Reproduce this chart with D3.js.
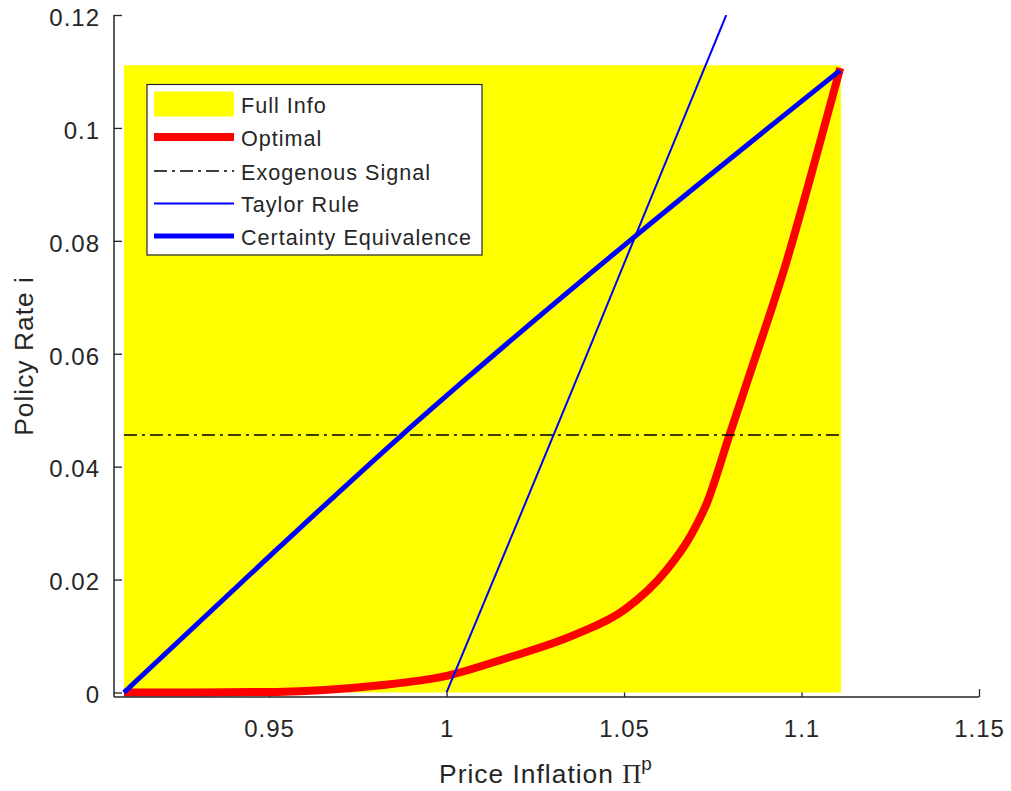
<!DOCTYPE html>
<html>
<head>
<meta charset="utf-8">
<script src="https://cdn.jsdelivr.net/npm/d3@7"></script>
<style>
  html, body { margin: 0; padding: 0; background: #fff; }
  svg { display: block; }
  text { font-family: "Liberation Sans", Arial, sans-serif; fill: #262626; }
</style>
</head>
<body>
<svg id="chart" width="1011" height="791"></svg>
<script>
// ---- data ----
const xTicks = [0.95, 1, 1.05, 1.1, 1.15];
const xTickLabels = ["0.95", "1", "1.05", "1.1", "1.15"];
const yTicks = [0, 0.02, 0.04, 0.06, 0.08, 0.1, 0.12];
const yTickLabels = ["0", "0.02", "0.04", "0.06", "0.08", "0.1", "0.12"];

// Full-information region (shaded patch)
const fullInfoX = [0.9091, 1.1111];
const fullInfoY = [0, 0.1111];

// Optimal policy
const optimalX = [0.9091, 0.930, 0.952, 0.980, 0.999, 1.017, 1.036, 1.050, 1.062, 1.0686, 1.0733, 1.0797, 1.0850, 1.0959, 1.1039, 1.1109];
const optimalY = [0, 0, 0.0001, 0.0012, 0.0028, 0.0061, 0.0102, 0.0146, 0.0217, 0.0276, 0.0335, 0.0456, 0.0556, 0.0766, 0.0944, 0.1106];

// Exogenous signal (horizontal)
const exoX = [0.9091, 1.1111];
const exoY = [0.0456, 0.0456];

// Taylor rule
const taylorX = [1.0, 1.02, 1.04, 1.06, 1.0788];
const taylorY = [0, 0.0302, 0.0606, 0.0913, 0.12];

// Certainty equivalence
const ceX = [0.9091, 0.9521, 0.9874, 1.0052, 1.0531, 1.1109];
const ceY = [0, 0.0253, 0.0456, 0.0554, 0.0808, 0.1102];

const legendLabels = ["Full Info", "Optimal", "Exogenous Signal", "Taylor Rule", "Certainty Equivalence"];

// ---- layout ----
const svg = d3.select("#chart");
const axisColor = "#262626";
const x = d3.scaleLinear().domain([0.9063, 1.15]).range([114, 979]);
const y = d3.scaleLinear().domain([-0.0008, 0.12]).range([697, 15]);

svg.append("defs").append("clipPath").attr("id", "plotclip")
  .append("rect").attr("x", 114).attr("y", 15).attr("width", 865).attr("height", 682);

// ticks (drawn under the data, like MATLAB's bottom layer)
const xAxis = d3.axisBottom(x).tickValues(xTicks).tickSize(-8).tickFormat((d, i) => xTickLabels[i]);
const yAxis = d3.axisLeft(y).tickValues(yTicks).tickSize(-8).tickFormat((d, i) => yTickLabels[i]);

const gx = svg.append("g").attr("transform", "translate(0,697)").call(xAxis);
const gy = svg.append("g").attr("transform", "translate(114,0)").call(yAxis);
[gx, gy].forEach(g => {
  g.select(".domain").remove();
  g.selectAll(".tick line").attr("stroke", axisColor).attr("stroke-width", 1.3);
  g.selectAll(".tick text").attr("fill", axisColor)
    .style("font-size", "24px").style("letter-spacing", "1px")
    .style("font-family", "'Liberation Sans', Arial, sans-serif");
});
gx.selectAll(".tick text").attr("y", 0).attr("dy", null).attr("transform", "translate(0,40)");
gy.selectAll(".tick text").attr("x", -14).attr("dy", "0.43em");

const plot = svg.append("g").attr("clip-path", "url(#plotclip)");

// Full info patch
plot.append("rect")
  .attr("x", x(fullInfoX[0])).attr("y", y(fullInfoY[1]))
  .attr("width", x(fullInfoX[1]) - x(fullInfoX[0]))
  .attr("height", y(fullInfoY[0]) - y(fullInfoY[1]))
  .attr("fill", "#ffff00");

const zip = (a, b) => a.map((v, i) => [v, b[i]]);

plot.append("path").datum(zip(optimalX, optimalY))
  .attr("d", d3.line().x(d => x(d[0])).y(d => y(d[1])).curve(d3.curveMonotoneX))
  .attr("fill", "none").attr("stroke", "#ff0000").attr("stroke-width", 8).attr("stroke-linejoin", "round");

plot.append("path").datum(zip(exoX, exoY))
  .attr("d", d3.line().x(d => x(d[0])).y(d => y(d[1])))
  .attr("fill", "none").attr("stroke", "#000").attr("stroke-width", 1.5)
  .attr("stroke-dasharray", "13,5,3,5");

plot.append("path").datum(zip(taylorX, taylorY))
  .attr("d", d3.line().x(d => x(d[0])).y(d => y(d[1])).curve(d3.curveMonotoneX))
  .attr("fill", "none").attr("stroke", "#0000ff").attr("stroke-width", 2);

plot.append("path").datum(zip(ceX, ceY))
  .attr("d", d3.line().x(d => x(d[0])).y(d => y(d[1])).curve(d3.curveMonotoneX))
  .attr("fill", "none").attr("stroke", "#0000ff").attr("stroke-width", 5).attr("stroke-linejoin", "round");

// axis lines
svg.append("line").attr("x1", 114).attr("x2", 979).attr("y1", 697).attr("y2", 697)
  .attr("stroke", axisColor).attr("stroke-width", 1.5);
svg.append("line").attr("x1", 114).attr("x2", 114).attr("y1", 15).attr("y2", 697)
  .attr("stroke", axisColor).attr("stroke-width", 1.5);

// axis labels
const xl = svg.append("text").attr("x", 546).attr("y", 783).attr("text-anchor", "middle")
  .style("font-size", "26.4px").style("letter-spacing", "1px");
xl.append("tspan").text("Price Inflation ");
xl.append("tspan").text("\u03A0").style("font-family", "'Liberation Serif', 'DejaVu Serif', serif").style("letter-spacing", "0px");
xl.append("tspan").text("p").attr("dy", -13).style("font-size", "19px");

svg.append("text").attr("transform", "translate(33,356) rotate(-90)")
  .attr("text-anchor", "middle").style("font-size", "26.4px").style("letter-spacing", "1px")
  .text("Policy Rate i");

// legend
const lg = svg.append("g");
lg.append("rect").attr("x", 147).attr("y", 84.5).attr("width", 335).attr("height", 170.5)
  .attr("fill", "#fff").attr("stroke", axisColor).attr("stroke-width", 1.2);
const rowY = [104, 137, 171, 203.5, 236];
lg.append("rect").attr("x", 154).attr("y", rowY[0] - 12.5).attr("width", 80).attr("height", 25).attr("fill", "#ffff00");
const legendStyles = [
  null,
  { stroke: "#ff0000", w: 8, dash: null },
  { stroke: "#000", w: 1.5, dash: "13,5,3,5" },
  { stroke: "#0000ff", w: 2, dash: null },
  { stroke: "#0000ff", w: 5, dash: null }
];
legendStyles.forEach((s, i) => {
  if (!s) return;
  lg.append("line").attr("x1", 154).attr("x2", 234).attr("y1", rowY[i]).attr("y2", rowY[i])
    .attr("stroke", s.stroke).attr("stroke-width", s.w).attr("stroke-dasharray", s.dash);
});
legendLabels.forEach((t, i) => {
  lg.append("text").attr("x", 241).attr("y", rowY[i] + 8.8)
    .style("font-size", "21.6px").style("letter-spacing", "1px").text(t);
});
</script>
</body>
</html>
